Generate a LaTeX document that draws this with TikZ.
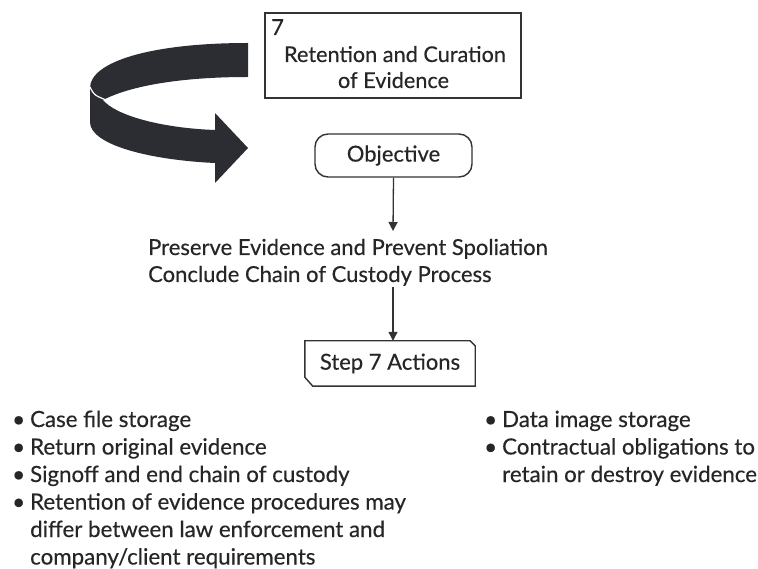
\documentclass[tikz,border=0pt]{standalone}
\usepackage{fontspec}
\setmainfont{Lato}[FakeBold=0.35]
\usetikzlibrary{calc,arrows.meta}
\definecolor{tc}{HTML}{262626}
\definecolor{lc}{HTML}{333333}
\definecolor{rib}{HTML}{2B2D33}
\tikzset{
  txt/.style={inner sep=0pt, anchor=base west, text=tc, font=\fontsize{22}{26}\selectfont},
  btxt/.style={txt, font=\fontsize{22.3}{26}\selectfont},
  ctxt/.style={inner sep=0pt, anchor=base, text=tc, font=\fontsize{21.7}{26}\selectfont},
  boxline/.style={draw=lc, line width=1.4pt},
  arr/.style={draw=lc, line width=1.3pt, -{Triangle[length=9pt,width=9pt]}},
}
\newcommand{\bul}{\textbullet\hspace{5pt}}
\begin{document}
\begin{tikzpicture}[x=1pt,y=-1pt]
\useasboundingbox (0,0) rectangle (758,569);
\fill[white] (0,0) rectangle (758,569);

% curved ribbon arrow
\fill[rib] (248,43) .. controls (150,43) and (90,62) .. (90,88)
  -- (90,122)
  .. controls (90,145) and (150,160) .. (215,163)
  -- (215,183) -- (248,148) -- (215,113) -- (215,130)
  .. controls (160,128) and (115,115) .. (103,100)
  .. controls (130,86) and (180,77) .. (248,77) -- cycle;
\draw[white, line width=1.2pt] (90,87) .. controls (94,95) .. (106,100);

% top box
\node[boxline, minimum width=256pt, minimum height=85pt, inner sep=0pt] (topbox) at (393,55.5) {};
\node[txt] (seven) at (271,35) {7};
\node[ctxt] (t1) at (395,62) {Retention and Curation};
\node[ctxt] (t2) at (393.5,88) {of Evidence};

% objective
\node[boxline, rounded corners=13pt, minimum width=157pt, minimum height=43pt, inner sep=0pt, text=tc, font=\fontsize{22}{26}\selectfont] (obj) at (393.5,155.5) {Objective};

\coordinate (a1) at (393,231);
\draw[arr] (obj.south) -- (a1);

\node[txt] (p1) at (148,255) {Preserve Evidence and Prevent Spoliation};
\node[txt] (p2) at (148,282) {Conclude Chain of Custody Process};

\coordinate (a2) at (393,287);

% step 7 actions
\node[inner sep=0pt, minimum width=170pt, minimum height=45pt, text=tc, font=\fontsize{22}{26}\selectfont] (actions) at (390,363.5) {Step 7 Actions};
\draw[boxline] (actions.north west) -- ($(actions.north east)+(-5,0)$) -- ($(actions.north east)+(0,5)$)
  -- (actions.south east) -- ($(actions.south west)+(8,0)$) -- ($(actions.south west)+(0,-9)$) -- cycle;
\draw[arr] (a2) -- (actions.north -| a2);

% left bullets
\node[btxt] (l1) at (12,427) {\bul Case file storage};
\node[btxt] (l2) at (12,454.5) {\bul Return original evidence};
\node[btxt] (l3) at (12,482) {\bul Signoff and end chain of custody};
\node[btxt] (l4) at (12,509.5) {\bul Retention of evidence procedures may};
\node[btxt] (l5) at (30,537) {differ between law enforcement and};
\node[btxt] (l6) at (30,564.5) {company/client requirements};

% right bullets
\node[btxt] (r1) at (484,427) {\bul Data image storage};
\node[btxt] (r2) at (484,454.5) {\bul Contractual obligations to};
\node[btxt] (r3) at (502,482) {retain or destroy evidence};
\end{tikzpicture}
\end{document}
